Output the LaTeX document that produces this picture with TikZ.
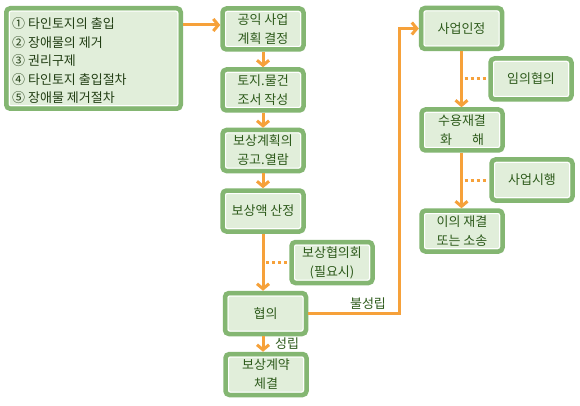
\documentclass[tikz,border=0pt]{standalone}
\usepackage{fontspec}
\setmainfont{Noto Sans CJK KR}
\usetikzlibrary{arrows.meta,calc}
\definecolor{bgreen}{HTML}{84B672}
\definecolor{bfill}{HTML}{E1EEDA}
\definecolor{tgreen}{HTML}{2D5A1B}
\definecolor{ltext}{HTML}{223E14}
\definecolor{orng}{HTML}{F6A13A}
\begin{document}
\begin{tikzpicture}[x=1pt,y=-1pt,
 box/.style={draw=bgreen, line width=4.5pt, fill=bfill, rounded corners=4pt,
   minimum width=81pt, minimum height=41pt, inner sep=0pt, text=tgreen,
   font=\fontsize{13}{19}\selectfont, align=center,
   path picture={\draw[white, line width=1pt, rounded corners=2pt]
     ([shift={(3pt,-3pt)}]path picture bounding box.north west) rectangle
     ([shift={(-3pt,3pt)}]path picture bounding box.south east);}},
 arr/.style={draw=orng, line width=3pt, -{Straight Barb[length=5pt,width=12pt]}},
 dotl/.style={draw=orng, line width=3pt, dash pattern=on 3pt off 3pt},
 lab/.style={text=tgreen, font=\fontsize{13}{14}\selectfont, inner sep=0pt}]
\fill[white] (0,0) rectangle (580,406);
\useasboundingbox (0,0) rectangle (580,406);
% list box
\node[box, minimum width=174.5pt, minimum height=100.5pt] (lst) at (93.5,58.5) {};
\node[anchor=west, inner sep=0pt, align=left, text=ltext,
  font=\fontsize{13}{18.5}\selectfont] (lsttxt) at (12,61)
  {① 타인토지의 출입\\② 장애물의 제거\\③ 권리구제\\④ 타인토지 출입절차\\⑤ 장애물 제거절차};
% left column
\node[box] (b1) at (263,29) {공익 사업\\계획 결정};
\node[box] (b2) at (263,90) {토지.물건\\조서 작성};
\node[box] (b3) at (263,150.5) {보상계획의\\공고.열람};
\node[box] (b4) at (263,211) {보상액 산정};
\node[box] (b5) at (332,262.5) {보상협의회\\(필요시)};
\node[box] (b6) at (265.5,313.5) {협의};
\node[box] (b7) at (266,374.5) {보상계약\\체결};
% right column
\node[box] (r1) at (461.5,28.5) {사업인정};
\node[box] (r2) at (531,79) {임의협의};
\node[box] (r3) at (462,130) {수용재결\\화\hspace{20pt}해};
\node[box] (r4) at (532,180) {사업시행};
\node[box] (r5) at (462,231) {이의 재결\\또는 소송};
% connectors
\coordinate (lstout) at (lst.east |- 0,25);
\draw[arr] (lstout) -- (b1.west |- lstout);
\draw[arr] (b1.south) -- (b2.north);
\draw[arr] (b2.south) -- (b3.north);
\draw[arr] (b3.south) -- (b4.north);
\draw[arr] (b4.south) -- (b4.south |- b6.north);
\draw[arr] (b4.south |- b6.south) -- (b4.south |- b7.north);
\draw[dotl] ([xshift=3pt]b4.south |- b5.west) -- ([xshift=-2pt]b5.west);
\coordinate (turn) at (399,0);
\draw[arr] (b6.east) -| (turn |- r1.west) -- (r1.west);
\draw[arr] (r1.south) -- (r1.south |- r3.north);
\draw[arr] (r1.south |- r3.south) -- (r1.south |- r5.north);
\draw[dotl] ([xshift=3pt]r1.south |- r2.west) -- ([xshift=-2pt]r2.west);
\draw[dotl] ([xshift=3pt]r1.south |- r4.west) -- ([xshift=-2pt]r4.west);
% labels
\node[lab] (l1) at (368,304) {불성립};
\node[lab] (l2) at (287,344) {성립};
\end{tikzpicture}
\end{document}
